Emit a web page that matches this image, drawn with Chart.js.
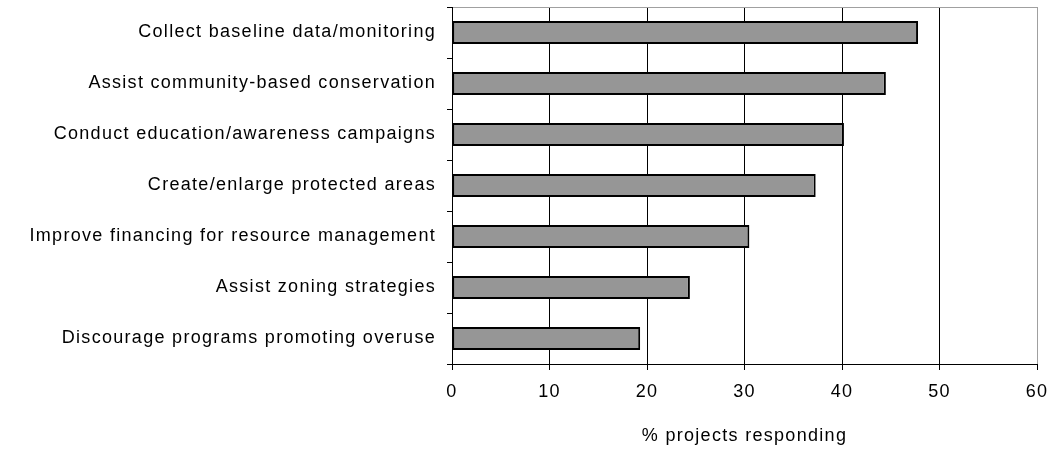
<!DOCTYPE html>
<html>
<head>
<meta charset="utf-8">
<script src="https://cdn.jsdelivr.net/npm/chart.js@4/dist/chart.umd.min.js"></script>
<style>
	html, body { margin: 0; padding: 0; background: #fff; }
	canvas { display: block; }
</style>
</head>
<body>
<canvas id="actions-chart" width="1052" height="452"></canvas>
<script>
const d = document,
	$canvas = d.getElementById('actions-chart')

// survey answers, top to bottom
const actions = [
	'Collect baseline data/monitoring',
	'Assist community-based conservation',
	'Conduct education/awareness campaigns',
	'Create/enlarge protected areas',
	'Improve financing for resource management',
	'Assist zoning strategies',
	'Discourage programs promoting overuse'
]
const percentResponding = [47.8, 44.5, 40.2, 37.3, 30.5, 24.4, 19.3]
const xTicks = [0, 10, 20, 30, 40, 50, 60]
const axisTitle = '% projects responding'

const FONT = { family: '"Liberation Sans", Arial, sans-serif', size: 18 }

// old-style wide text spacing
const spacedText = {
	id: 'spacedText',
	beforeDraw(chart) {
		chart.ctx.letterSpacing = '1.3px'
	}
}

Chart.defaults.color = '#000'
Chart.defaults.font = FONT

new Chart($canvas, {
	type: 'bar',
	data: {
		labels: actions,
		datasets: [{
			data: percentResponding,
			backgroundColor: '#969696',
			borderColor: '#000',
			borderWidth: 2,
			borderSkipped: false,
			barPercentage: 0.45,
			categoryPercentage: 1
		}]
	},
	options: {
		indexAxis: 'y',
		responsive: false,
		animation: false,
		layout: { padding: { top: 7, right: 15, left: 0, bottom: 0 } },
		plugins: {
			legend: { display: false },
			tooltip: { enabled: false }
		},
		scales: {
			x: {
				min: 0,
				max: 60,
				afterBuildTicks: (scale) => {
					scale.ticks = xTicks.map((value) => ({ value }))
				},
				afterFit: (scale) => {
					// plot box is fixed, no extra room for the end labels
					scale.height = 88
					scale.paddingLeft = 0
					scale.paddingRight = 0
				},
				border: { color: '#000', width: 1 },
				grid: {
					color: (ctx) => (ctx.tick && ctx.tick.value === 60 ? '#a0a0a0' : '#000'),
					tickColor: '#000',
					tickLength: 6,
					lineWidth: 1
				},
				ticks: { padding: 11, font: FONT, color: '#000' },
				title: {
					display: true,
					text: axisTitle,
					font: FONT,
					color: '#000',
					padding: { top: 0, bottom: 5 }
				}
			},
			y: {
				afterFit: (scale) => {
					scale.width = 452
					scale.paddingTop = 0
					scale.paddingBottom = 0
				},
				border: { color: '#000', width: 1 },
				grid: {
					offset: true,
					color: (ctx) => (ctx.index === 0 ? '#a0a0a0' : 'rgba(0,0,0,0)'),
					tickColor: '#000',
					tickLength: 5
				},
				ticks: { padding: 11, font: FONT, color: '#000' }
			}
		}
	},
	plugins: [spacedText]
})
</script>
</body>
</html>
